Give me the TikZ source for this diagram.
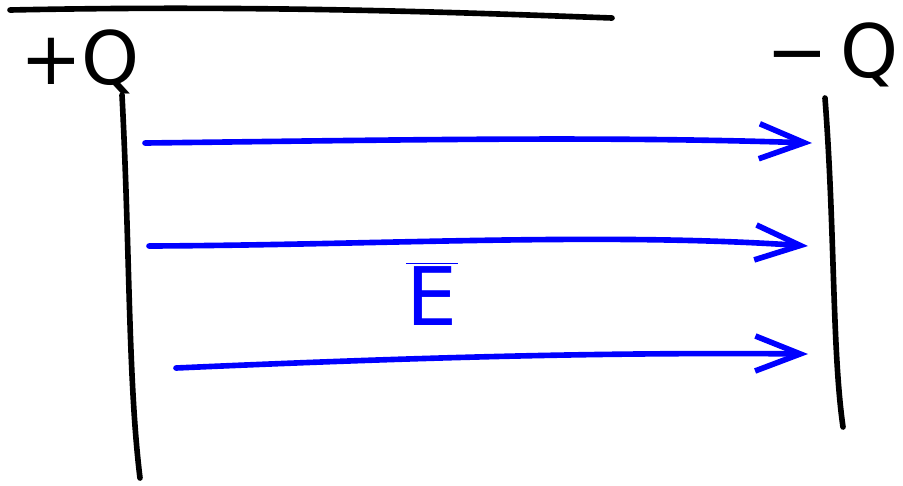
\documentclass[tikz,border=0pt]{standalone}
\usepackage{fontspec}
\setmainfont{DejaVu Sans}
\usepackage{tikz}
\usetikzlibrary{arrows.meta}

\begin{document}
\begin{tikzpicture}[
    x=0.02cm, y=-0.02cm,
    line cap=round, line join=round,
    plate/.style={draw=black, line width=3.2pt},
    field/.style={draw=blue, line width=3.2pt, -{Straight Barb[length=9mm, width=7mm, line width=3.2pt]}},
    charge/.style={font=\fontsize{42}{42}\selectfont, inner sep=0pt},
    fieldlabel/.style={text=blue, font=\fontsize{46}{46}\selectfont, inner sep=0pt}
]
    \useasboundingbox (0,0) rectangle (903,485);
    \clip (0,0) rectangle (903,485);

    % --- TOP LINE ---
    \coordinate (topL) at (10,10);
    \coordinate (topR) at (612,18);
    \draw[plate] (topL) .. controls (250,5) and (450,12) .. (topR);

    % --- PLATES ---
    \coordinate (leftT) at (122,95);
    \coordinate (leftB) at (140,478);
    \coordinate (rightT) at (825,98);
    \coordinate (rightB) at (843,427);
    \draw[plate] (leftT) .. controls (130,250) and (128,380) .. (leftB);
    \draw[plate] (rightT) .. controls (835,230) and (832,350) .. (rightB);

    % --- CHARGES ---
    \node[charge] (qpos) at (80,62) {+Q};
    \node[charge] (qneg) at (833,55) {−\,Q};

    % --- FIELD LINES ---
    \coordinate (a1) at (145,143);
    \coordinate (b1) at (812,143);
    \coordinate (a2) at (149,246);
    \coordinate (b2) at (808,246);
    \coordinate (a3) at (176,368);
    \coordinate (b3) at (808,354);
    \draw[field] (a1) .. controls (400,140) and (600,136) .. (b1);
    \draw[field] (a2) .. controls (380,245) and (600,232) .. (b2);
    \draw[field] (a3) .. controls (400,358) and (600,352) .. (b3);

    % field label
    \node[fieldlabel] (efield) at (432,294) {$\overline{\textrm{E}}$};

\end{tikzpicture}
\end{document}
